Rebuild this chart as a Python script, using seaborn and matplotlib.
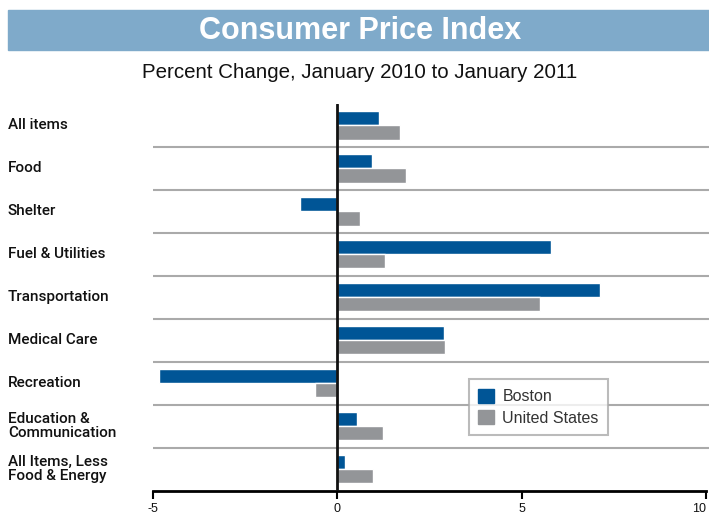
import matplotlib
matplotlib.use("Agg")
import matplotlib.pyplot as plt
import matplotlib.patches as mpatches
from matplotlib.transforms import blended_transform_factory
import seaborn as sns
import pandas as pd

categories = ["All items", "Food", "Shelter", "Fuel & Utilities", "Transportation",
              "Medical Care", "Recreation", "Education &\nCommunication",
              "All Items, Less\nFood & Energy"]
boston = [1.14, 0.95, -1.0, 5.8, 7.12, 2.9, -4.84, 0.52, 0.2]
united_states = [1.71, 1.85, 0.62, 1.3, 5.49, 2.93, -0.6, 1.25, 0.97]
series = ["Boston", "United States"]
xticks = [-5, 0, 5, 10]

df = pd.DataFrame({
    "Category": categories * 2,
    "Value": boston + united_states,
    "Region": [series[0]] * len(categories) + [series[1]] * len(categories),
})

sns.set_style("white")
plt.rcParams["font.family"] = ["Liberation Sans", "DejaVu Sans"]

W, H = 709, 517
fig = plt.figure(figsize=(W / 100, H / 100), dpi=100)

# Title banner
fig.patches.append(mpatches.Rectangle((8 / W, 1 - 50 / H), 1 - 8 / W, 40 / H,
                                      transform=fig.transFigure, color="#7faaca", zorder=0))
fig.text(360 / W, 1 - 31 / H, "Consumer Price Index", color="white", fontsize=22,
         fontweight="bold", ha="center", va="center")
fig.text(360 / W, 1 - 73 / H, "Percent Change, January 2010 to January 2011",
         color="#111111", fontsize=14.8, ha="center", va="center")

left = 153 / W
bottom = (H - 490.5) / H
top = (H - 104) / H
ax = fig.add_axes([left, bottom, 1 - left, top - bottom])

palette = {"Boston": "#005596", "United States": "#939598"}
sns.barplot(data=df, y="Category", x="Value", hue="Region", orient="h",
            palette=palette, width=0.66, saturation=1, ax=ax, legend=False,
            order=categories, hue_order=series)

ax.set_xlim(-5, 10.08)
ax.set_ylim(len(categories) - 0.5, -0.5)
ax.set_xlabel("")
ax.set_ylabel("")
ax.set_yticks([])
ax.set_xticks(xticks)
ax.set_xticklabels([str(t) for t in xticks], fontsize=9, color="#111111")
ax.get_xticklabels()[-1].set_horizontalalignment("right")
ax.tick_params(axis="x", bottom=True, direction="out", length=6, width=1.5,
               color="black", pad=3)

for s in ["top", "right", "left"]:
    ax.spines[s].set_visible(False)
ax.spines["bottom"].set_linewidth(2)
ax.spines["bottom"].set_color("black")
ax.spines["bottom"].set_bounds(-5, 10)

for i in range(len(categories) - 1):
    ax.axhline(i + 0.5, color="#aaaaaa", lw=1.5, zorder=0)
ax.axvline(0, color="#111111", lw=2, zorder=5)

trans = blended_transform_factory(fig.transFigure, ax.transData)
for i, c in enumerate(categories):
    ax.text(8 / W, i, c, transform=trans, ha="left", va="center", fontsize=11,
            color="#111111", linespacing=1.05, clip_on=False,
            family=["Roboto", "Liberation Sans"], fontweight="medium")

handles = [mpatches.Patch(color=palette[s], label=s) for s in series]
leg = ax.legend(handles=handles, loc="upper left", bbox_to_anchor=(0.568, 0.288),
                borderaxespad=0, fontsize=11.5, frameon=True, fancybox=False,
                handlelength=1.0, handleheight=1.0, handletextpad=0.5,
                labelspacing=0.35, borderpad=0.6)
leg.get_frame().set_edgecolor("#aaaaaa")
leg.get_frame().set_linewidth(1.5)
for t in leg.get_texts():
    t.set_color("#333333")

fig.savefig("out.png", dpi=100)
